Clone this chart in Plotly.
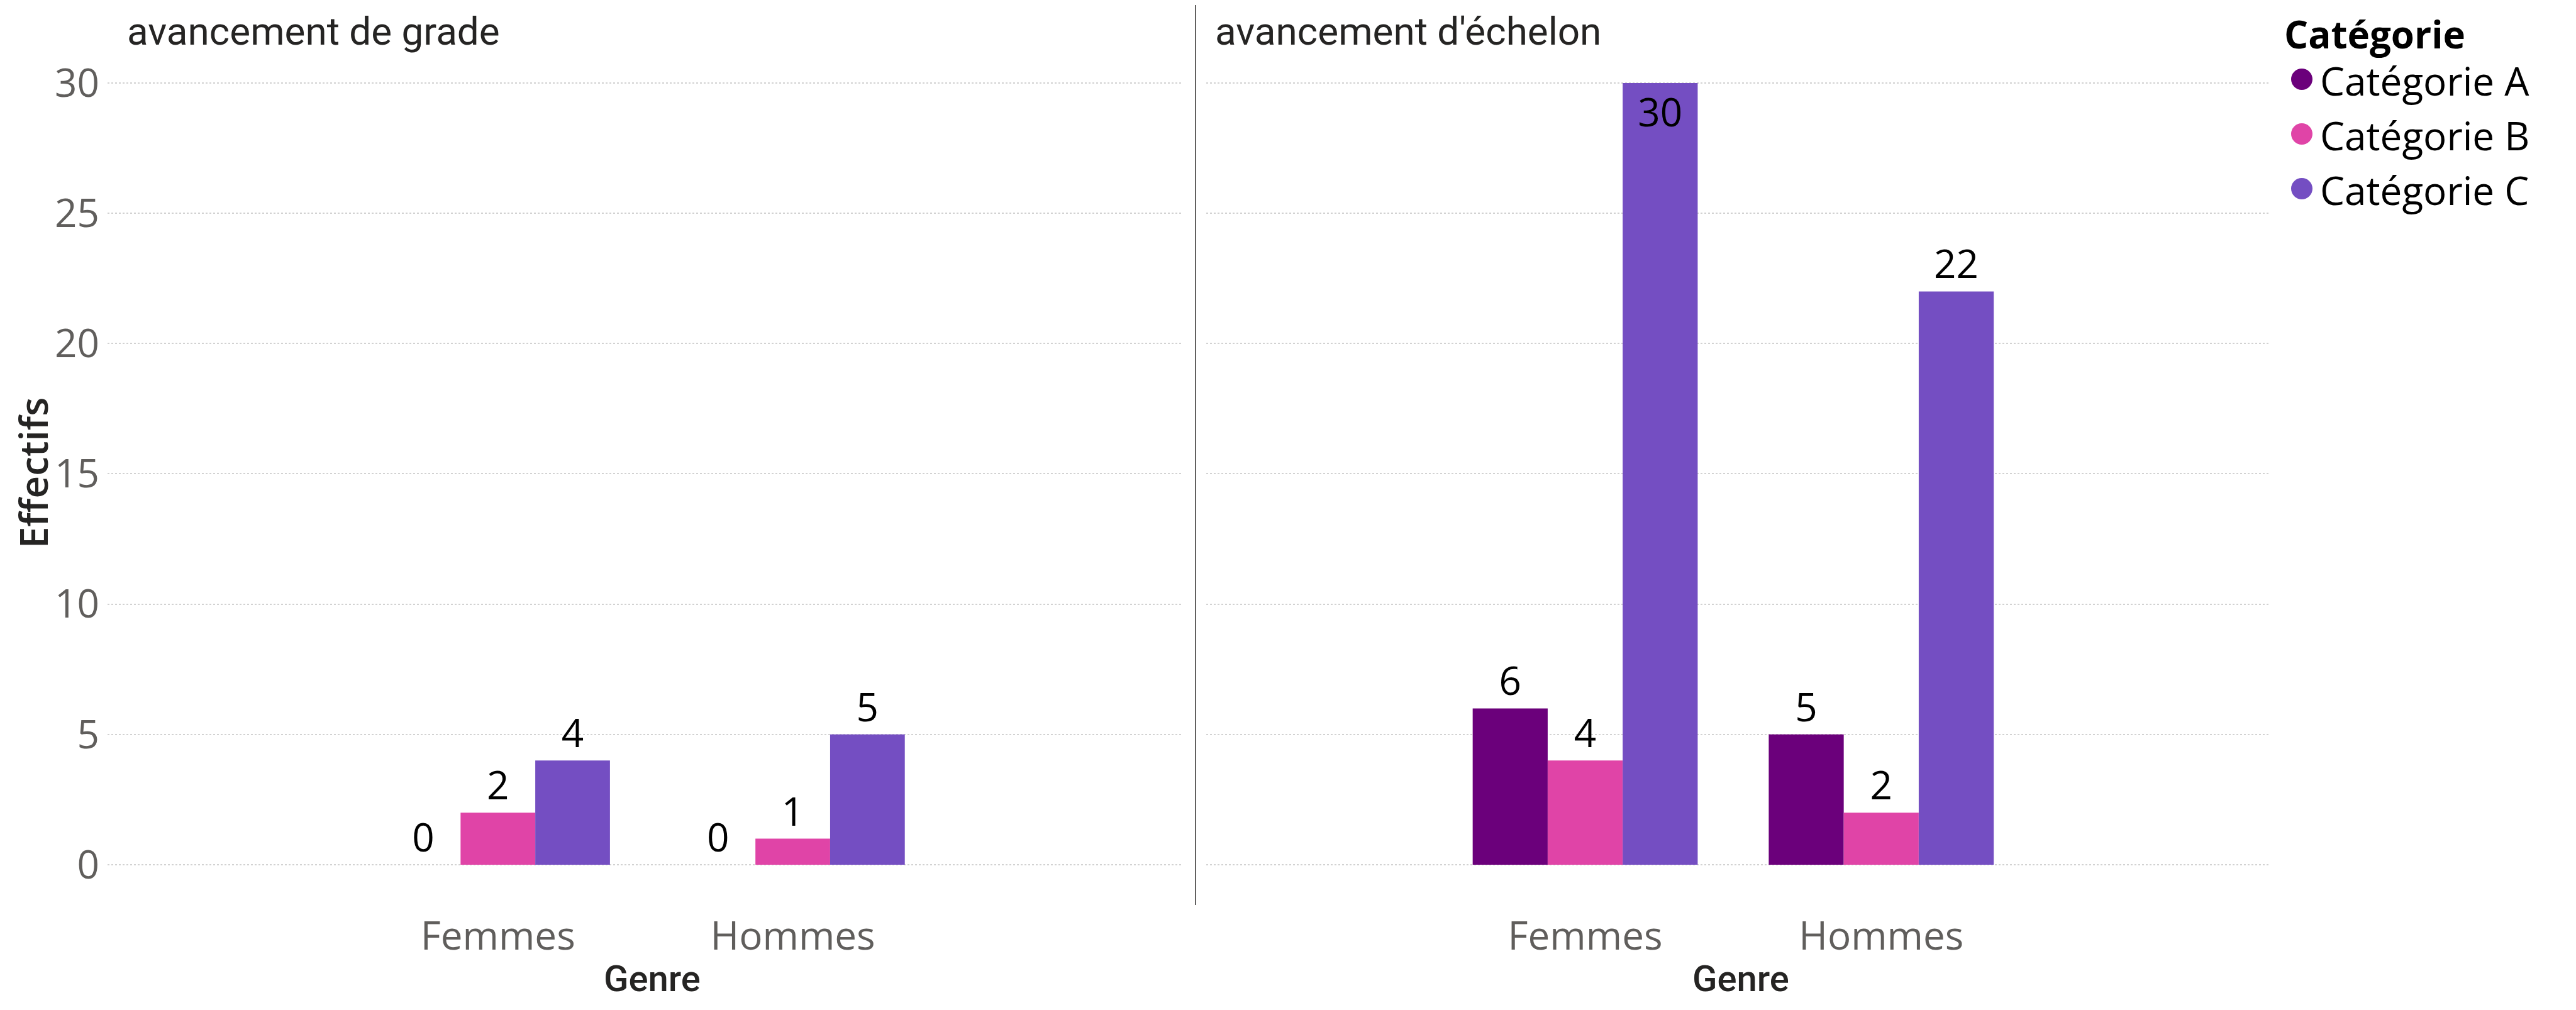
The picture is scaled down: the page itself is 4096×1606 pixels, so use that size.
import plotly.graph_objects as go

# ---------------- data ----------------
genres = ["Femmes", "Hommes"]
categories = ["Catégorie A", "Catégorie B", "Catégorie C"]
colors = ["#6B007B", "#E044A7", "#744EC2"]
panel_titles = ["avancement de grade", "avancement d'échelon"]
grade_values = {"Catégorie A": [0, 0], "Catégorie B": [2, 1], "Catégorie C": [4, 5]}
echelon_values = {"Catégorie A": [6, 5], "Catégorie B": [4, 2], "Catégorie C": [30, 22]}
y_ticks = [0, 5, 10, 15, 20, 25, 30]
y_title = "Effectifs"
x_title = "Genre"
legend_title = "Catégorie"

# page body has an 8px default margin -> figure sized to fit inside the window
OFF = 8
W, H = 4096 - 2 * OFF, 1606 - 2 * OFF
TICK_FONT = "Open Sans, Noto Sans, sans-serif"
TITLE_FONT = "Roboto, DejaVu Sans, sans-serif"
TICK_COLOR = "#605E5C"
DARK = "#252423"
YMAX = 30

def px_x(p):
    return (p - OFF) / W

def px_y(p):
    return 1 - (p - OFF) / H

fig = go.Figure()

panels = [("x", "y", grade_values), ("x2", "y2", echelon_values)]
for xa, ya, vals in panels:
    for cat, col in zip(categories, colors):
        v = vals[cat]
        pos = ["inside" if val > 0.9 * YMAX else "outside" for val in v]
        fig.add_trace(go.Bar(
            x=genres, y=v, name=cat, marker=dict(color=col, line=dict(width=0)),
            text=[str(val) for val in v], textposition=pos,
            insidetextanchor="end", constraintext="none", textangle=0,
            textfont=dict(family=TICK_FONT, size=62, color="black"),
            insidetextfont=dict(family=TICK_FONT, size=62, color="black"),
            outsidetextfont=dict(family=TICK_FONT, size=62, color="black"),
            cliponaxis=False, showlegend=False, xaxis=xa, yaxis=ya,
        ))

# y: 30 -> 132px, 0 -> 1375px (window px); range padded slightly so edge gridlines draw
unit = (1375 - 132) / YMAX
pad = 0.05
y_dom = [px_y(1375 + pad * unit), px_y(132 - pad * unit)]
xcommon = dict(type="category", showgrid=False, zeroline=False, showline=False,
               ticks="", tickfont=dict(family=TICK_FONT, size=62, color=TICK_COLOR),
               ticklabelstandoff=70, fixedrange=True, automargin=False)
ycommon = dict(range=[-pad, YMAX + pad], tickvals=y_ticks, showgrid=True, gridcolor="#D2D2D2",
               griddash="dot", gridwidth=1.5, zeroline=False, showline=False, ticks="",
               domain=y_dom, automargin=False, fixedrange=True)

fig.update_layout(
    template="none",
    width=W, height=H, margin=dict(l=0, r=0, t=0, b=0, pad=0, autoexpand=False),
    paper_bgcolor="white", plot_bgcolor="white",
    barmode="group", bargap=0.24, bargroupgap=0,
    showlegend=False,
    xaxis=dict(domain=[px_x(171), px_x(1878)], range=[-1.324, 2.317], anchor="y", **xcommon),
    xaxis2=dict(domain=[px_x(1918), px_x(3607)], range=[-1.280, 2.308], anchor="y2", **xcommon),
    yaxis=dict(anchor="x", showticklabels=True,
               tickfont=dict(family=TICK_FONT, size=62, color=TICK_COLOR),
               ticklabelstandoff=12, **ycommon),
    yaxis2=dict(anchor="x2", showticklabels=False, matches="y", **ycommon),
)

ann = []
# panel titles
for t, tx in zip(panel_titles, [201, 1931]):
    ann.append(dict(text=t, x=px_x(tx), y=px_y(50), xref="paper", yref="paper",
                    xanchor="left", yanchor="middle", showarrow=False, borderpad=0,
                    font=dict(family=TITLE_FONT, size=62, color=DARK)))
# x axis titles
for cx in [(171 + 1878) / 2 + 12, (1918 + 3607) / 2 + 5]:
    ann.append(dict(text=x_title, x=px_x(cx), y=px_y(1556), xref="paper", yref="paper",
                    xanchor="center", yanchor="middle", showarrow=False, borderpad=0,
                    font=dict(family=TITLE_FONT, size=58, color=DARK, weight=500)))
# y axis title
ann.append(dict(text=y_title, x=px_x(52), y=px_y(752), xref="paper", yref="paper",
                xanchor="center", yanchor="middle", textangle=-90, showarrow=False,
                font=dict(family=TICK_FONT, size=62, color=DARK, weight=600)))
# legend
ann.append(dict(text="<b>" + legend_title + "</b>", x=px_x(3631), y=px_y(54), xref="paper", yref="paper",
                xanchor="left", yanchor="middle", showarrow=False, borderpad=0,
                font=dict(family=TICK_FONT, size=60, color="black")))
shapes = []
leg_y = [126, 213, 300]
for cat, col, ly in zip(categories, colors, leg_y):
    r = 17
    shapes.append(dict(type="circle", xref="paper", yref="paper",
                       x0=px_x(3660 - r), x1=px_x(3660 + r), y0=px_y(ly + r), y1=px_y(ly - r),
                       fillcolor=col, line=dict(width=0)))
    ann.append(dict(text=cat, x=px_x(3688), y=px_y(ly + 2), xref="paper", yref="paper",
                    xanchor="left", yanchor="middle", showarrow=False, borderpad=0,
                    font=dict(family=TICK_FONT, size=62, color="black")))
# separator between the two panels
shapes.append(dict(type="line", xref="paper", yref="paper",
                   x0=px_x(1901), x1=px_x(1901), y0=px_y(1439), y1=1,
                   line=dict(color="#3b3a39", width=1.6)))

fig.update_layout(annotations=ann, shapes=shapes)
fig.write_html("out.html")
